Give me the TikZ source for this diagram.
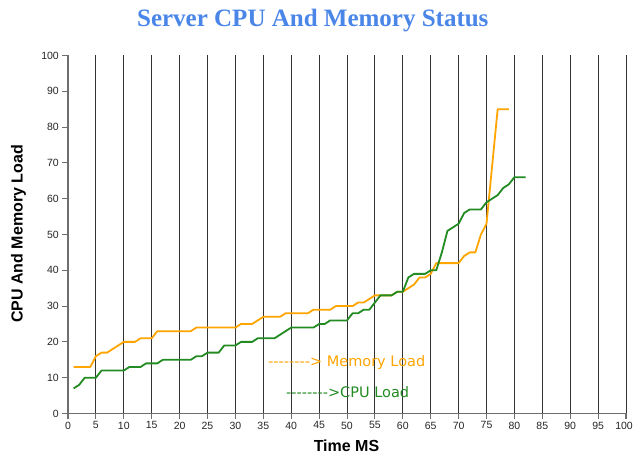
\documentclass[tikz,border=0pt]{standalone}
\usepackage{fontspec}
\setmainfont{Liberation Sans}
\newfontfamily\titlefont{Liberation Serif}
\newfontfamily\legendfont[Ligatures=TeXOff]{DejaVu Sans}
\definecolor{titleblue}{RGB}{74,134,232}
\definecolor{memorange}{RGB}{255,165,0}
\definecolor{cpugreen}{RGB}{34,139,34}
\definecolor{axisgray}{RGB}{110,110,110}
\tikzset{
  gridline/.style={draw=black!80, line width=0.9pt},
  axisline/.style={draw=axisgray, line width=1.3pt},
  tickline/.style={draw=axisgray, line width=1pt},
  ticklabel/.style={inner sep=0pt, font=\fontsize{10.5}{12}\selectfont, text=black!85},
  memline/.style={draw=memorange, line width=1.8pt, line join=round},
  cpuline/.style={draw=cpugreen, line width=1.8pt, line join=round},
  axistitle/.style={inner sep=0pt, font=\fontsize{16}{19}\selectfont\bfseries},
  legendtext/.style={inner sep=0pt, anchor=west, font=\legendfont\fontsize{14.5}{17}\selectfont},
}
\begin{document}
\begin{tikzpicture}[x=1pt,y=-1pt]
\useasboundingbox (0,0) rectangle (633,454);
\fill[white] (0,0) rectangle (633,454);

\node[inner sep=0pt, anchor=base, text=titleblue, font=\titlefont\fontsize{25}{30}\selectfont\bfseries] (title) at (312.8,26.7) {Server CPU And Memory Status};

\begin{scope}[shift={(68,413.5)}, x=5.58pt, y=3.58pt]
  % vertical grid lines
  \foreach \t in {5,10,...,100} \draw[gridline] (\t,0) -- (\t,100);
  % y axis
  \draw[axisline] ([xshift=-6pt]0,100) -- (0,100) -- (0,0) -- ([xshift=-6pt]0,0);
  \foreach \v in {10,20,...,90} \draw[tickline] ([xshift=-6pt]0,\v) -- (0,\v);
  \foreach \v in {0,10,...,100} \node[ticklabel, anchor=east] (yl\v) at ([xshift=-9pt]0,\v) {\v};
  % x axis
  \draw[axisline] ([yshift=-6pt]0,0) -- (0,0) -- (100,0) -- ([yshift=-6pt]100,0);
  \foreach \t in {5,10,...,95} \draw[tickline] (\t,0) -- ([yshift=-6pt]\t,0);
  \foreach \t in {0,5,...,95} \node[ticklabel, anchor=north] (xl\t) at ([yshift=-8pt]\t,0) {\t};
  \node[ticklabel, anchor=north east] (xl100) at ([yshift=-8pt, xshift=7pt]100,0) {100};

  % memory load
  \draw[memline] plot coordinates {
    (1,13) (2,13) (3,13) (4,13) (5,16) (6,17) (7,17) (8,18) (9,19) (10,20)
    (11,20) (12,20) (13,21) (14,21) (15,21) (16,23) (17,23) (18,23) (19,23) (20,23)
    (21,23) (22,23) (23,24) (24,24) (25,24) (26,24) (27,24) (28,24) (29,24) (30,24)
    (31,25) (32,25) (33,25) (34,26) (35,27) (36,27) (37,27) (38,27) (39,28) (40,28)
    (41,28) (42,28) (43,28) (44,29) (45,29) (46,29) (47,29) (48,30) (49,30) (50,30)
    (51,30) (52,31) (53,31) (54,32) (55,33) (56,33) (57,33) (58,33) (59,34) (60,34)
    (61,35) (62,36) (63,38) (64,38) (65,39) (66,42) (67,42) (68,42) (69,42) (70,42)
    (71,44) (72,45) (73,45) (74,50) (75,53) (76,69) (77,85) (78,85) (79,85)};

  % cpu load
  \draw[cpuline] plot coordinates {
    (1,7) (2,8) (3,10) (4,10) (5,10) (6,12) (7,12) (8,12) (9,12) (10,12)
    (11,13) (12,13) (13,13) (14,14) (15,14) (16,14) (17,15) (18,15) (19,15) (20,15)
    (21,15) (22,15) (23,16) (24,16) (25,17) (26,17) (27,17) (28,19) (29,19) (30,19)
    (31,20) (32,20) (33,20) (34,21) (35,21) (36,21) (37,21) (38,22) (39,23) (40,24)
    (41,24) (42,24) (43,24) (44,24) (45,25) (46,25) (47,26) (48,26) (49,26) (50,26)
    (51,28) (52,28) (53,29) (54,29) (55,31) (56,33) (57,33) (58,33) (59,34) (60,34)
    (61,38) (62,39) (63,39) (64,39) (65,40) (66,40) (67,45) (68,51) (69,52) (70,53)
    (71,56) (72,57) (73,57) (74,57) (75,59) (76,60) (77,61) (78,63) (79,64) (80,66)
    (81,66) (82,66)};
\end{scope}

\node[axistitle, rotate=90] (ytitle) at (18.5,234) {CPU And Memory Load};
\node[axistitle] (xtitle) at (346.5,446) {Time MS};

\node[legendtext, text=memorange] (memleg) at (268,362.5) {-------->\ Memory Load};
\node[legendtext, text=cpugreen] (cpuleg) at (286,392.5) {-------->CPU Load};
\end{tikzpicture}
\end{document}
